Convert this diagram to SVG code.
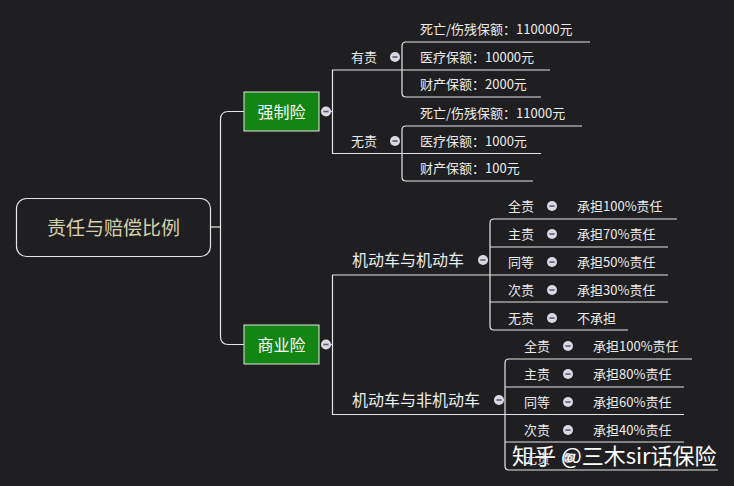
<svg xmlns="http://www.w3.org/2000/svg" width="734" height="486" viewBox="0 0 734 486">
<defs>
<style>
.t{font-family:"Noto Sans CJK SC","Noto Sans",sans-serif;fill:#ececec;font-size:13px;dominant-baseline:central}
.b{font-size:16px}
.l{fill:none;stroke:#e6e6e6;stroke-width:1.2}
.c{fill:#d9d9e4}
.m{stroke:#5a5a6e;stroke-width:1.6}
.g{fill:#138513;stroke:#e6e6e6;stroke-width:1}
</style>
<g id="tog"><circle r="5" class="c"/><line x1="-2.6" x2="2.6" y1="0" y2="0" class="m"/></g>
</defs>
<rect width="734" height="486" fill="#1f1f21"/>

<g id="connectors">
<path class="l" d="M211,227 H220.5"/>
<path class="l" d="M244,111.5 H228.5 Q220.5,111.5 220.5,119.5 V336.5 Q220.5,344.5 228.5,344.5 H244"/>
<path class="l" d="M330,111.5 H332.5"/>
<path class="l" d="M550,70 H332.5 V153.5 H541"/>
<path class="l" d="M590,42 H406 Q402,42 402,46 V93 Q402,97 406,97 H541"/>
<path class="l" d="M582,126 H406 Q402,126 402,130 V177 Q402,181 406,181 H533"/>
<path class="l" d="M330,344.5 H332.5"/>
<path class="l" d="M668,275 H332.5 V414.5 H684"/>
<path class="l" d="M677,219 H494 Q490,219 490,223 V326 Q490,330 494,330 H628"/>
<path class="l" d="M490,247 H668"/>
<path class="l" d="M490,302 H668"/>
<path class="l" d="M692,359 H509 Q505,359 505,363 V466 Q505,470 509,470 H718"/>
<path class="l" d="M505,387 H684"/>
<path class="l" d="M505,442 H684"/>
</g>

<g id="root">
<rect x="16.5" y="198.5" width="194" height="58" rx="10" fill="none" stroke="#e6e6e6" stroke-width="1.2"/>
<text class="t" x="113.5" y="226.5" text-anchor="middle" style="fill:#d6cfae;font-size:19px">责任与赔偿比例</text>
</g>

<g id="qiangzhixian">
<rect class="g" x="244" y="92" width="75" height="39"/>
<text class="t b" x="281.5" y="110.5" text-anchor="middle" style="fill:#fff">强制险</text>
<use href="#tog" x="326" y="111.5"/>
</g>

<g id="youze1">
<text class="t" x="351" y="56">有责</text>
<use href="#tog" x="395" y="57"/>
</g>
<g id="yz1-a"><text class="t" x="420" y="28">死亡/伤残保额：110000元</text></g>
<g id="yz1-b"><text class="t" x="420" y="56">医疗保额：10000元</text></g>
<g id="yz1-c"><text class="t" x="420" y="83.5">财产保额：2000元</text></g>

<g id="wuze1">
<text class="t" x="351" y="140">无责</text>
<use href="#tog" x="395" y="141"/>
</g>
<g id="wz1-a"><text class="t" x="420" y="112">死亡/伤残保额：11000元</text></g>
<g id="wz1-b"><text class="t" x="420" y="140">医疗保额：1000元</text></g>
<g id="wz1-c"><text class="t" x="420" y="167.5">财产保额：100元</text></g>

<g id="shangyexian">
<rect class="g" x="244" y="325" width="75" height="39"/>
<text class="t b" x="281.5" y="343.5" text-anchor="middle" style="fill:#fff">商业险</text>
<use href="#tog" x="326" y="344.5"/>
</g>

<g id="jj">
<text class="t b" x="352" y="259">机动车与机动车</text>
<use href="#tog" x="483" y="260"/>
</g>
<g id="jj-1"><text class="t" x="508" y="205">全责</text><use href="#tog" x="552" y="206"/></g>
<g id="jj-1a"><text class="t" x="577" y="205">承担100%责任</text></g>
<g id="jj-2"><text class="t" x="508" y="233">主责</text><use href="#tog" x="552" y="234"/></g>
<g id="jj-2a"><text class="t" x="577" y="233">承担70%责任</text></g>
<g id="jj-3"><text class="t" x="508" y="261">同等</text><use href="#tog" x="552" y="262"/></g>
<g id="jj-3a"><text class="t" x="577" y="261">承担50%责任</text></g>
<g id="jj-4"><text class="t" x="508" y="289">次责</text><use href="#tog" x="552" y="290"/></g>
<g id="jj-4a"><text class="t" x="577" y="289">承担30%责任</text></g>
<g id="jj-5"><text class="t" x="508" y="317">无责</text><use href="#tog" x="552" y="318"/></g>
<g id="jj-5a"><text class="t" x="577" y="317">不承担</text></g>

<g id="jf">
<text class="t b" x="352" y="399">机动车与非机动车</text>
<use href="#tog" x="499" y="400"/>
</g>
<g id="jf-1"><text class="t" x="524" y="345">全责</text><use href="#tog" x="568" y="346"/></g>
<g id="jf-1a"><text class="t" x="593" y="345">承担100%责任</text></g>
<g id="jf-2"><text class="t" x="524" y="373">主责</text><use href="#tog" x="568" y="374"/></g>
<g id="jf-2a"><text class="t" x="593" y="373">承担80%责任</text></g>
<g id="jf-3"><text class="t" x="524" y="401">同等</text><use href="#tog" x="568" y="402"/></g>
<g id="jf-3a"><text class="t" x="593" y="401">承担60%责任</text></g>
<g id="jf-4"><text class="t" x="524" y="429">次责</text><use href="#tog" x="568" y="430"/></g>
<g id="jf-4a"><text class="t" x="593" y="429">承担40%责任</text></g>
<g id="jf-5"><text class="t" x="524" y="457">无责</text><use href="#tog" x="568" y="458"/></g>

<g id="watermark">
<text x="512" y="454" style="font-family:'Noto Sans CJK SC','Noto Sans',sans-serif;font-size:22px;fill:#ffffff;stroke:#1f1f21;stroke-width:0.6;paint-order:stroke;dominant-baseline:central">知乎 @三木sir话保险</text>
</g>
</svg>
